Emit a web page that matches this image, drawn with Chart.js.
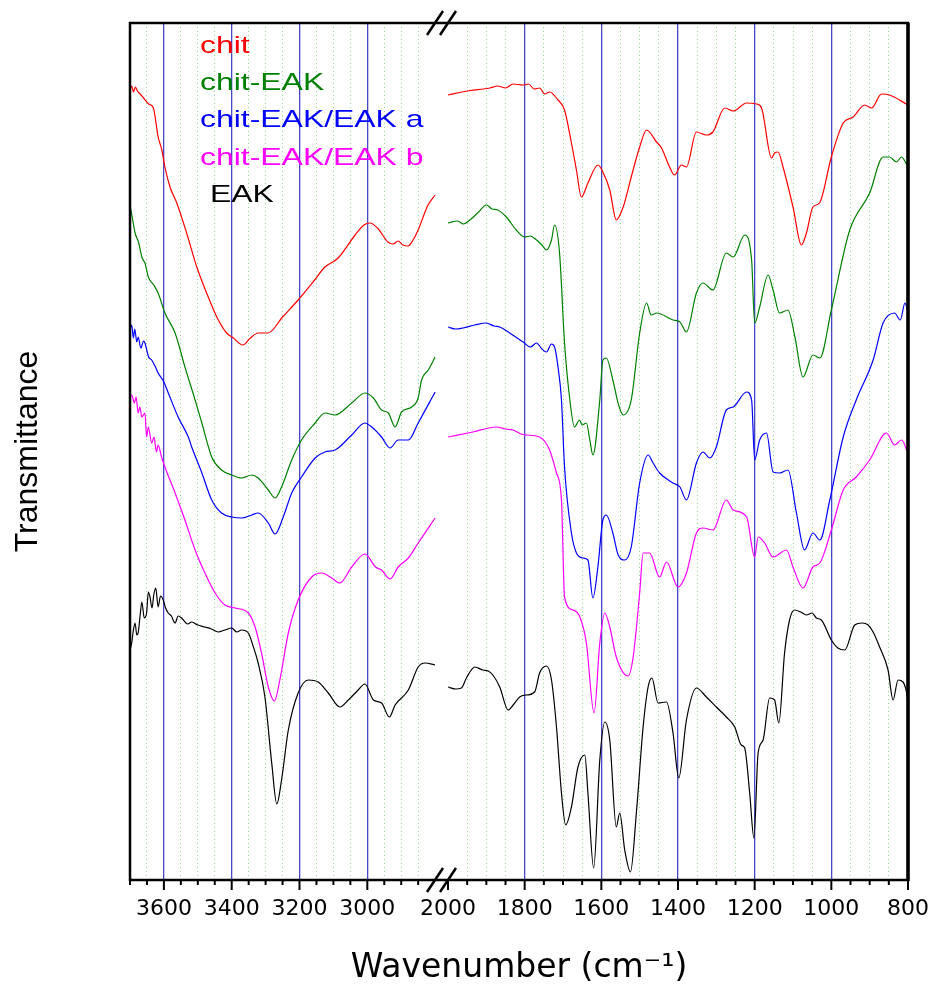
<!DOCTYPE html>
<html>
<head>
<meta charset="utf-8">
<script src="https://cdn.jsdelivr.net/npm/chart.js@4.4.1/dist/chart.umd.min.js"></script>
<style>
html,body{margin:0;padding:0;background:#fff;}
#wrap{width:935px;height:985px;}
</style>
</head>
<body>
<div id="wrap"><canvas id="c" width="935" height="985"></canvas></div>
<script>
// FTIR spectra, [wavenumber, transmittance a.u.] - left part (3700-2800) and right part (2000-800)
const chitL = [[3700,79],[3695,79.4],[3690,78.8],[3684,79.3],[3678,78.9],[3670,78.6],[3660,78.2],[3645,77.6],[3631,77.2],[3617,74.3],[3606,73],[3597,71.3],[3582,69.3],[3562,67.7],[3533,64.7],[3503,61.3],[3474,58.7],[3444,56.3],[3415,54.7],[3395,54.2],[3367,53.5],[3345,54.2],[3322,54.7],[3293,54.7],[3250,56.3],[3204,58],[3160,59.8],[3125,61.3],[3086,62.2],[3036,64.5],[3010,65.5],[2992,65.7],[2970,65.2],[2939,63.8],[2924,63.6],[2909,63.9],[2895,63.5],[2880,63.4],[2865,64],[2850,65],[2821,67.5],[2800,68.5]];
const chitR = [[2000,78.5],[1950,78.9],[1891,79.2],[1870,79.4],[1850,79.2],[1830,79.6],[1804,79.5],[1790,79.6],[1775,79.1],[1761,79.2],[1748,78.6],[1735,78.8],[1713,78],[1696,77],[1678,73.7],[1665,71],[1652,68.3],[1635,69.7],[1609,71.5],[1596,70.8],[1578,69],[1561,66],[1543,67.3],[1522,70.3],[1500,73.3],[1482,75],[1456,73.8],[1443,73.2],[1422,71.3],[1409,70.5],[1391,71.5],[1378,71.3],[1352,74.8],[1326,74.5],[1309,74.8],[1278,77.2],[1256,76.9],[1221,77.7],[1195,77.6],[1182,77.2],[1156,72.2],[1148,72.7],[1139,72.8],[1126,71.3],[1100,67.3],[1078,63.5],[1065,64.7],[1048,67.3],[1031,67.7],[1000,72.3],[969,75.7],[943,76.3],[913,77.5],[895,77.2],[869,78.6],[848,78.5],[800,77.5]];

const chitEakL = [[3700,67.5],[3692,66],[3685,64.7],[3675,63.8],[3665,62.3],[3655,61.6],[3646,60.3],[3630,59.5],[3617,58.7],[3597,56.7],[3567,54.7],[3538,51.3],[3508,48],[3488,45.7],[3459,42.3],[3430,41],[3400,40.5],[3371,40.2],[3341,40.5],[3322,40.2],[3292,39],[3272,38.2],[3253,39.3],[3223,42],[3194,44],[3154,45.7],[3125,46.7],[3095,46.5],[3046,47.7],[3007,48.7],[2982,48.2],[2958,47],[2938,46.7],[2918,45.3],[2899,46.8],[2869,47.3],[2850,48.2],[2840,50],[2820,51],[2800,52.3]];
const chitEakR = [[2000,65.7],[1975,65.9],[1960,65.6],[1943,66],[1920,66.8],[1900,67.5],[1885,67.1],[1870,67],[1848,66.3],[1822,65],[1800,64.3],[1785,64.4],[1769,64],[1755,63.5],[1743,63],[1730,64],[1722,65.5],[1709,62.7],[1696,53.7],[1683,48.3],[1670,45.3],[1657,46],[1650,45.5],[1639,45.7],[1630,44],[1622,42.5],[1604,48],[1596,52],[1587,52.2],[1570,50],[1555,47.5],[1543,46.5],[1522,48],[1500,54.7],[1482,57.7],[1470,56.5],[1456,56.7],[1413,56],[1395,55.8],[1378,54.8],[1352,58.7],[1335,59.7],[1309,59],[1274,62.7],[1256,62.3],[1226,64.5],[1208,62],[1200,55.7],[1187,57.3],[1165,60.5],[1152,59],[1135,56.7],[1113,57],[1095,54.3],[1074,50.3],[1048,52.5],[1030,52.2],[1000,57],[952,65],[900,68.7],[865,72.3],[848,72.3],[830,71.8],[817,72.3],[800,71.3]];

const mixAL = [[3700,55],[3695,55.5],[3690,54.2],[3686,55.1],[3680,53.8],[3676,54.3],[3668,53.2],[3660,53.9],[3656,53.7],[3645,52.3],[3636,52],[3625,51.3],[3617,50.7],[3600,49.8],[3587,48.7],[3558,46.3],[3528,44.3],[3518,43.3],[3488,40.7],[3459,38],[3430,36.7],[3400,36.3],[3371,36.2],[3341,36.5],[3322,36.7],[3292,35.7],[3272,34.6],[3248,36.3],[3223,38.7],[3194,40.3],[3154,42.2],[3125,42.8],[3095,43],[3046,44.5],[3007,45.7],[2987,45.3],[2958,44.3],[2933,43.2],[2909,44],[2879,44],[2850,45.7],[2800,48.8]];
const mixAR = [[2000,55.3],[1980,55.1],[1961,55.2],[1930,55.5],[1900,55.7],[1880,55.4],[1865,55.3],[1839,54.7],[1820,54.2],[1804,53.8],[1785,53.3],[1769,53.7],[1755,53.1],[1743,52.8],[1730,53.6],[1722,53.3],[1713,51.3],[1704,48],[1696,41.3],[1678,34.7],[1665,32.7],[1648,32.2],[1635,32],[1622,28.2],[1609,31.3],[1596,36],[1587,36.5],[1570,34.7],[1556,32.5],[1539,32],[1522,33.3],[1500,39.7],[1478,42.5],[1465,41.7],[1448,40.7],[1413,39.7],[1395,39.3],[1378,38],[1352,41.7],[1335,42.8],[1317,42.2],[1300,43.3],[1274,47],[1256,47.3],[1221,48.8],[1208,48],[1200,42],[1187,44],[1169,44.7],[1152,40.8],[1135,40.7],[1113,41],[1091,36.7],[1070,33],[1048,34.7],[1030,34],[1004,38],[969,44.3],[935,48],[891,52],[865,55.7],[835,56.7],[820,56],[808,57.7],[800,56.8]];

const mixBL = [[3700,48.3],[3695,48.5],[3687,47.7],[3682,48.3],[3676,46.7],[3671,47.3],[3665,46.3],[3656,46.7],[3651,44.3],[3646,45.3],[3636,43.7],[3629,44.3],[3622,42.8],[3617,43.5],[3607,42.3],[3597,41.3],[3567,38.7],[3538,36],[3508,33],[3479,30.7],[3449,28.7],[3420,27.5],[3390,27.2],[3351,26.7],[3331,25.3],[3312,22.7],[3292,19.3],[3274,17.9],[3258,20],[3233,24.7],[3204,28],[3164,30.3],[3135,30.7],[3105,30.2],[3081,29.7],[3046,31.3],[3007,32.6],[2976,31.3],[2958,31],[2933,30.1],[2909,31.3],[2879,32.2],[2850,33.7],[2800,36.2]];
const mixBR = [[2000,44.3],[1935,44.8],[1874,45.3],[1850,45.1],[1830,45],[1810,44.6],[1795,44.5],[1761,44.3],[1735,43],[1717,40.7],[1704,38],[1696,28.3],[1674,27],[1656,26.3],[1639,23.7],[1619,16.7],[1604,23.7],[1591,26.7],[1578,25.3],[1561,22.3],[1530,20.4],[1517,22.3],[1500,28.7],[1491,32.7],[1474,32.7],[1448,30.3],[1430,31.8],[1400,29.3],[1378,30.7],[1352,34.7],[1335,35.2],[1309,35],[1274,38],[1256,37],[1221,36.3],[1200,32.3],[1191,34.3],[1174,33.7],[1152,32.3],[1117,33],[1100,31.3],[1074,29.2],[1048,31.3],[1030,31.7],[1000,35],[969,39],[935,40.3],[900,42],[856,44.7],[835,43.5],[817,44],[800,42.7]];

const eakL = [[3700,23],[3695,23.7],[3690,25],[3685,25.7],[3680,24.5],[3676,24.7],[3670,26.5],[3665,27.8],[3658,26.2],[3651,26.7],[3646,28.8],[3641,28.3],[3635,27.2],[3630,28.5],[3624,29.2],[3617,27.3],[3610,28.4],[3602,28],[3595,27.2],[3587,26.7],[3578,26.4],[3567,25.7],[3558,26.4],[3548,26.2],[3530,25.6],[3518,25.8],[3500,25.5],[3479,25.3],[3460,25.1],[3440,24.8],[3420,25],[3400,25.2],[3385,24.8],[3371,25],[3351,24.7],[3336,23.3],[3322,21.7],[3302,18.3],[3282,11.7],[3267,7.6],[3253,10],[3233,15],[3204,18.7],[3174,20],[3145,19.8],[3115,18.7],[3081,17.3],[3056,18],[3027,19],[3007,19.6],[2982,18],[2958,17.7],[2935,16.3],[2918,17.5],[2879,19],[2850,21.3],[2830,21.7],[2800,21.5]];
const eakR = [[2000,19.3],[1980,19.1],[1965,19.2],[1952,20.2],[1930,21.3],[1909,21],[1895,20.9],[1883,20.5],[1865,19.3],[1843,17],[1830,17.5],[1813,18.3],[1795,18.5],[1774,18.8],[1761,20.7],[1743,21.4],[1730,20],[1717,15.3],[1704,8.7],[1693,5.5],[1678,7.3],[1661,11.3],[1643,12.5],[1635,8.7],[1620,1.2],[1604,12],[1591,15.8],[1578,14],[1561,5.3],[1552,6.7],[1539,3],[1524,0.8],[1508,7],[1491,15.3],[1478,19.3],[1468,20.2],[1452,17.7],[1430,17.8],[1413,14.7],[1398,10.2],[1378,16],[1352,19.2],[1326,18.3],[1300,17.3],[1274,16.3],[1252,15.3],[1235,13.5],[1226,13.2],[1213,8.7],[1202,4.2],[1191,12.7],[1178,14],[1161,18.2],[1148,18],[1137,15.7],[1122,22.7],[1109,26],[1096,27],[1080,26.8],[1065,26.5],[1050,26.7],[1039,26.2],[1026,26],[1000,24],[983,23.2],[965,23],[939,25.5],[920,25.7],[904,25.5],[891,24.8],[874,23.3],[852,21],[839,18],[826,20],[813,19.8],[804,18.8],[800,17.7]];

const names = ['chit','chit-EAK','chit-EAK/EAK a','chit-EAK/EAK b','EAK'];
const colors = ['#ff0000','#008000','#0000ff','#ff00ff','#000000'];
const leftLabels = [3600,3400,3200,3000];
const rightLabels = [2000,1800,1600,1400,1200,1000,800];

const leftSets = [chitL, chitEakL, mixAL, mixBL, eakL];
const rightSets = [chitR, chitEakR, mixAR, mixBR, eakR];

function toPts(arr){ return arr.map(p => ({x:p[0], y:p[1]})); }

const datasets = [];
names.forEach((n,i) => {
  [['xl',leftSets[i]],['xr',rightSets[i]]].forEach(([axis,arr]) => {
    datasets.push({
      label:n, data:toPts(arr), xAxisID:axis, yAxisID:'y',
      showLine:true, borderColor:colors[i], borderWidth:1.2,
      pointRadius:0, fill:false, cubicInterpolationMode:'monotone'
    });
  });
});

// blue lines at labelled ticks, light green dots elsewhere
function isMajor(v){ return v % 200 === 0 && v !== 2000 && v !== 800; }
function gridOpts(){
  return {
    drawTicks:false,
    color: c => {
      const v = c.tick.value;
      if (v === 2800 || v === 2000) return 'rgba(0,0,0,0)';
      return isMajor(v) ? '#4646c8' : '#8fd88f';
    },
    lineWidth: c => isMajor(c.tick.value) ? 1.3 : 1
  };
}
function borderOpts(){
  return { display:false, dash: c => isMajor(c.tick.value) ? [] : [1,3] };
}
const tickFont = {family:'"DejaVu Sans", sans-serif', size:22};

// keep the plot box where it is: no extra room for edge labels
function fitX(s){ s.height = 68; s.paddingLeft = 0; s.paddingRight = 0; }

// legend text inside the plot
const legendText = {
  id:'legendText',
  afterDatasetsDraw(chart){
    const {ctx, chartArea:a} = chart;
    ctx.save();
    ctx.font = '24px "Liberation Sans", Arial, sans-serif';
    ctx.textBaseline = 'alphabetic';
    names.forEach((n,i) => {
      ctx.save();
      ctx.translate(a.left + 70 + (i === 4 ? 10 : 0), a.top + 30 + i*37.2);
      ctx.scale(1.33, 1);
      ctx.fillStyle = colors[i];
      ctx.fillText(n, 0, 0);
      ctx.restore();
    });
    ctx.restore();
  }
};

// frame, tick marks and axis break
const frame = {
  id:'frame',
  afterDraw(chart){
    const {ctx, chartArea:a, scales} = chart;
    ctx.save();
    ctx.strokeStyle = '#000';
    ctx.lineWidth = 2;
    ['xl','xr'].forEach(id => {
      const s = scales[id];
      s.ticks.forEach(t => {
        if (t.value === 2800) return;
        const x = s.getPixelForValue(t.value);
        const len = t.value % 200 === 0 ? 10 : 5;
        ctx.beginPath(); ctx.moveTo(x, a.bottom); ctx.lineTo(x, a.bottom + len); ctx.stroke();
      });
    });
    ctx.lineWidth = 2.5;
    ctx.strokeRect(a.left, a.top, a.right - a.left, a.bottom - a.top);
    ctx.lineWidth = 3.5;
    ctx.beginPath(); ctx.moveTo(a.right, a.top); ctx.lineTo(a.right, a.bottom + 1); ctx.stroke();
    ctx.lineWidth = 2.5;
    const bx = scales.xr.left;
    [a.top, a.bottom].forEach(y => {
      [-13, 0].forEach(dx => {
        ctx.beginPath(); ctx.moveTo(bx + dx - 8, y + 12); ctx.lineTo(bx + dx + 8, y - 12); ctx.stroke();
      });
    });
    ctx.restore();
  }
};

new Chart(document.getElementById('c'), {
  type:'scatter',
  data:{datasets},
  options:{
    responsive:false,
    animation:false,
    layout:{autoPadding:false, padding:{left:0,right:27,top:23,bottom:0}},
    plugins:{
      legend:{display:false},
      tooltip:{enabled:false},
      title:{display:true, position:'bottom', fullSize:false, text:'Wavenumber (cm\u207B\u00B9)', color:'#000',
        font:{family:'"DejaVu Sans", sans-serif', size:33, weight:'normal', lineHeight:1}, padding:{top:6,bottom:0}}
    },
    scales:{
      xl:{type:'linear', position:'bottom', stack:'wn', stackWeight:318, min:2762, max:3700, reverse:true,
        ticks:{stepSize:50, includeBounds:false, autoSkip:false, maxRotation:0, minRotation:0, padding:16, color:'#000', font:tickFont,
          callback:v => leftLabels.includes(v) ? String(v) : ''},
        grid:gridOpts(), border:borderOpts(),
        afterFit(s){ s.height = 66; s.paddingLeft = 0; s.paddingRight = 0; }},
      xr:{type:'linear', position:'bottom', stack:'wn', stackWeight:460, min:800, max:2000, reverse:true,
        ticks:{stepSize:50, autoSkip:false, maxRotation:0, minRotation:0, padding:16, color:'#000', font:tickFont,
          callback:v => rightLabels.includes(v) ? String(v) : ''},
        grid:gridOpts(), border:borderOpts(),
        afterFit(s){ s.height = 66; s.paddingLeft = 0; s.paddingRight = 0; }},
      y:{type:'linear', position:'left', min:0, max:85.7,
        ticks:{display:false}, grid:{display:false}, border:{display:false},
        title:{display:true, text:'Transmittance', color:'#000', font:{family:'"Liberation Sans", Arial, sans-serif', size:32}, padding:{top:9,bottom:0}},
        afterFit(s){ s.width = 130; s.paddingTop = 0; s.paddingBottom = 0; }}
    }
  },
  plugins:[legendText, frame]
});
</script>
</body>
</html>
